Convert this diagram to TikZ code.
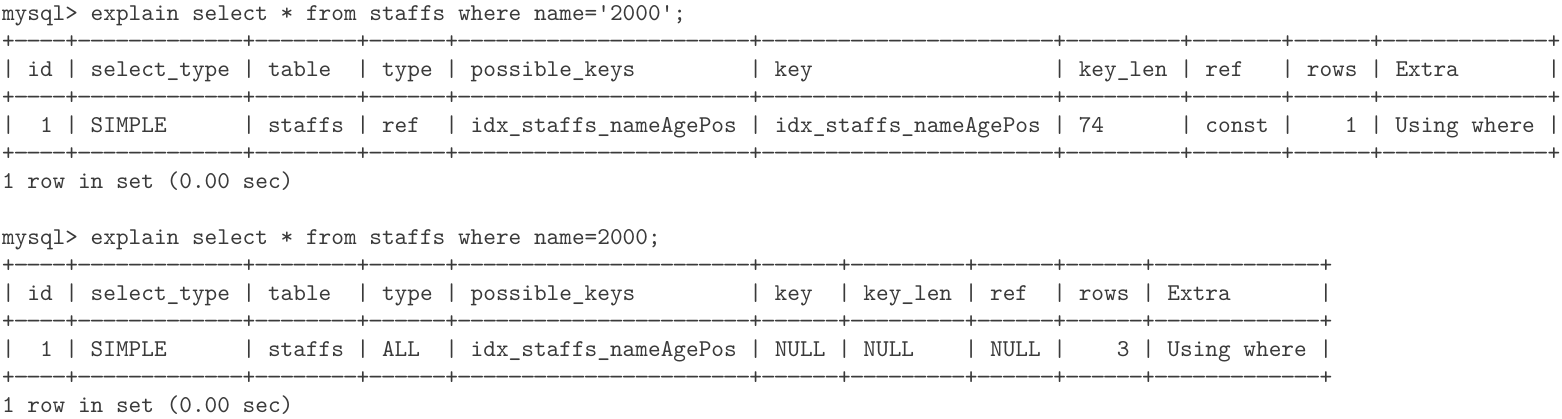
\documentclass[tikz,border=0pt]{standalone}
\usepackage{xcolor}
\usepackage{graphicx}
\font\mono="[lmmono10-regular]" at 24.13pt
\newlength\cw
\settowidth\cw{\mono M}
\newcommand\dsh{\makebox[\cw][c]{\scalebox{1.22}[1]{-}}}
\ExplSyntaxOn
\cs_new:Npn \dashrun #1 { \prg_replicate:nn {#1} { \dsh } }
\ExplSyntaxOff
\newcommand\seg[1]{\dashrun{#1}\mbox{+}}
\newcommand\cellL[2]{\makebox[#1\cw][l]{\hspace*{\cw}#2}|}
\newcommand\cellR[2]{\makebox[#1\cw][r]{#2\hspace*{\cw}}|}
\newcommand\us{\string_}
\definecolor{termc}{HTML}{3A3A3A}
\tikzset{termline/.style={anchor=base west, inner sep=0pt, outer sep=0pt, font=\mono, text=termc}}
\begin{document}
\begin{tikzpicture}[x=1pt,y=1pt]
\useasboundingbox[fill=white] (0,0) rectangle (1562,419);
% ---- first query ----
\node[termline] (cmdA) at (2,398) {mysql> explain select * from staffs where name='2000';};
\node[termline] (tAtop) at (2,370) {\mbox{+}\seg{4}\seg{13}\seg{8}\seg{6}\seg{23}\seg{23}\seg{9}\seg{7}\seg{6}\seg{13}};
\node[termline] (tAhead) at (2,342) {|\cellL{4}{id}\cellL{13}{select\us type}\cellL{8}{table}\cellL{6}{type}\cellL{23}{possible\us keys}\cellL{23}{key}\cellL{9}{key\us len}\cellL{7}{ref}\cellL{6}{rows}\cellL{13}{Extra}};
\node[termline] (tAmid) at (2,314) {\mbox{+}\seg{4}\seg{13}\seg{8}\seg{6}\seg{23}\seg{23}\seg{9}\seg{7}\seg{6}\seg{13}};
\node[termline] (tArow) at (2,286) {|\cellR{4}{1}\cellL{13}{SIMPLE}\cellL{8}{staffs}\cellL{6}{ref}\cellL{23}{idx\us staffs\us nameAgePos}\cellL{23}{idx\us staffs\us nameAgePos}\cellL{9}{74}\cellL{7}{const}\cellR{6}{1}\cellL{13}{Using where}};
\node[termline] (tAbot) at (2,258) {\mbox{+}\seg{4}\seg{13}\seg{8}\seg{6}\seg{23}\seg{23}\seg{9}\seg{7}\seg{6}\seg{13}};
\node[termline] (resA) at (2,230) {1 row in set (0.00 sec)};
% ---- second query ----
\node[termline] (cmdB) at (2,174) {mysql> explain select * from staffs where name=2000;};
\node[termline] (tBtop) at (2,146) {\mbox{+}\seg{4}\seg{13}\seg{8}\seg{6}\seg{23}\seg{6}\seg{9}\seg{6}\seg{6}\seg{13}};
\node[termline] (tBhead) at (2,118) {|\cellL{4}{id}\cellL{13}{select\us type}\cellL{8}{table}\cellL{6}{type}\cellL{23}{possible\us keys}\cellL{6}{key}\cellL{9}{key\us len}\cellL{6}{ref}\cellL{6}{rows}\cellL{13}{Extra}};
\node[termline] (tBmid) at (2,90) {\mbox{+}\seg{4}\seg{13}\seg{8}\seg{6}\seg{23}\seg{6}\seg{9}\seg{6}\seg{6}\seg{13}};
\node[termline] (tBrow) at (2,62) {|\cellR{4}{1}\cellL{13}{SIMPLE}\cellL{8}{staffs}\cellL{6}{ALL}\cellL{23}{idx\us staffs\us nameAgePos}\cellL{6}{NULL}\cellL{9}{NULL}\cellL{6}{NULL}\cellR{6}{3}\cellL{13}{Using where}};
\node[termline] (tBbot) at (2,34) {\mbox{+}\seg{4}\seg{13}\seg{8}\seg{6}\seg{23}\seg{6}\seg{9}\seg{6}\seg{6}\seg{13}};
\node[termline] (resB) at (2,6) {1 row in set (0.00 sec)};
\end{tikzpicture}
\end{document}
